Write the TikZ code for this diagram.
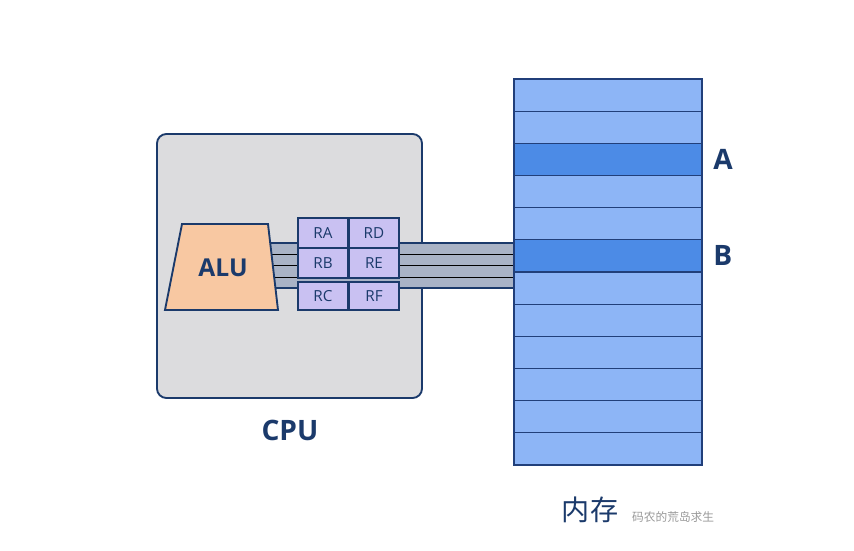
\documentclass[tikz,border=0pt]{standalone}
\usepackage{fontspec}
\setmainfont{Open Sans}
\newfontfamily\cjk{Noto Sans CJK SC}
\usetikzlibrary{positioning}
\usepackage{xcolor}

\definecolor{navy}{HTML}{1B3A6B}
\definecolor{cpugray}{HTML}{DCDCDE}
\definecolor{alupeach}{HTML}{F8C8A2}
\definecolor{reglilac}{HTML}{C9C1F2}
\definecolor{busgray}{HTML}{A9B3C6}
\definecolor{memblue}{HTML}{8DB5F6}
\definecolor{memdark}{HTML}{4C8BE6}
\definecolor{memline}{HTML}{213F7A}

\tikzset{
  reg/.style={draw=navy, line width=1.4pt, fill=reglilac, text=navy,
    minimum width=1.5cm, minimum height=0.9cm, inner sep=0pt,
    font=\fontsize{13}{15}\selectfont},
  memrow/.style={draw=memline, line width=1pt, fill=memblue,
    minimum width=5.64cm, minimum height=0.965cm, inner sep=0pt},
  bigtext/.style={text=navy, font=\fontsize{24}{28}\selectfont\bfseries}
}

\begin{document}
\begin{tikzpicture}[x=0.03cm,y=-0.03cm]
\useasboundingbox (0,0) rectangle (854,550);

% cpu box
\draw[navy, line width=1.6pt, fill=cpugray, rounded corners=8pt] (157,134) rectangle (422,398);
\node[bigtext] (cpu) at (290,430) {CPU};

% bus
{
\fill[busgray] (268,243) rectangle (514,288);
\draw[navy, line width=1.5pt] (268,243) -- (514,243);
\draw[navy, line width=1.5pt] (268,288) -- (514,288);
\foreach \y in {254,265,277}
  \draw[black, line width=0.7pt] (268,\y) -- (514,\y);
}

% alu
\draw[navy, line width=1.6pt, fill=alupeach] (182,224) -- (268,224) -- (278,310) -- (165,310) -- cycle;
\node[bigtext, font=\fontsize{21}{24}\selectfont\bfseries] (alu) at (223,268) {ALU};

% registers
{
\node[reg] (ra) at (323,233) {RA};
\node[reg] (rb) at (323,263) {RB};
\node[reg, minimum height=0.84cm] (rc) at (323,296) {RC};
\node[reg] (rd) at (374,233) {RD};
\node[reg] (re) at (374,263) {RE};
\node[reg, minimum height=0.84cm] (rf) at (374,296) {RF};
}

% memory
\foreach \i in {0,...,11}{
  \node[memrow] (m\i) at (608,{79+(\i+0.5)*32.17}) {};
}
\node[memrow, fill=memdark] (m2) at (608,{79+2.5*32.17}) {};
\node[memrow, fill=memdark] (m5) at (608,{79+5.5*32.17}) {};

% nodes
{
\node[bigtext, right=0.2cm of m2] (a) {A};
\node[bigtext, right=0.2cm of m5] (b) {B};
\node[text=navy, font=\cjk\fontsize{24}{28}\selectfont] (mem) at (590,510) {内存};
\node[text=gray!80, font=\cjk\fontsize{10}{12}\selectfont, anchor=west] (wm) at (628,517) {码农的荒岛求生};
}

\end{tikzpicture}
\end{document}
